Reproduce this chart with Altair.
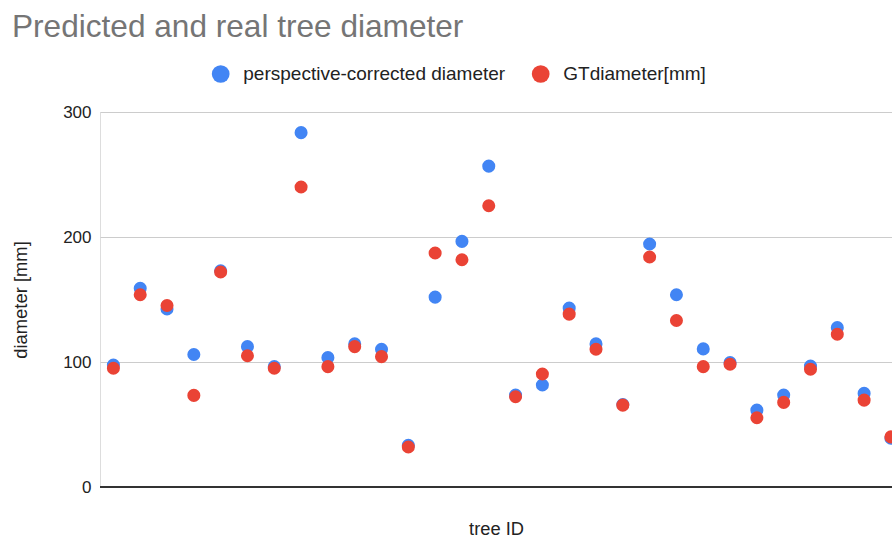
import altair as alt
import pandas as pd

tree_ids = list(range(1, 31))
predicted = [97.6, 159, 142.5, 106, 173, 112.3, 96.3, 283.5, 103.5, 114.5,
             110.2, 33.4, 151.9, 196.5, 256.7, 73.6, 81.6, 143.1, 114.5, 66,
             194.4, 153.8, 110.5, 99.5, 61.5, 73.6, 96.8, 127.5, 74.9, 39]
ground_truth = [95, 153.8, 145.2, 73.3, 172, 105, 95, 240, 96.3, 112.3,
                104.3, 32, 187.2, 181.8, 225, 72.2, 90.4, 138.3, 110.2, 65.5,
                184, 133.2, 96.3, 98.2, 55.4, 67.7, 94.2, 122.2, 69.5, 40.1]
series_names = ["perspective-corrected diameter", "GTdiameter[mm]"]
series_colors = ["#4285F4", "#EA4335"]
y_ticks = [0, 100, 200, 300]

rows = []
for name, vals in zip(series_names, [predicted, ground_truth]):
    for t, v in zip(tree_ids, vals):
        rows.append({"tree": t, "series": name, "value": v})
df = pd.DataFrame(rows)

FONT = "Liberation Sans"

x_scale = alt.Scale(domain=[0.5, 30.04], nice=False, zero=False)
y_scale = alt.Scale(domain=[0, 300], nice=False)

points = alt.Chart(df).mark_circle(size=170, opacity=1, clip=True).encode(
    x=alt.X("tree:Q", scale=x_scale,
            axis=alt.Axis(title="tree ID", labels=False, ticks=False, grid=False,
                          domain=False, titleFont=FONT, titleFontSize=18.3,
                          titleFontWeight="normal", titleColor="#222222",
                          titlePadding=33)),
    y=alt.Y("value:Q", scale=y_scale,
            axis=alt.Axis(title="diameter [mm]", values=y_ticks, ticks=False,
                          domain=False, labelFont=FONT, labelFontSize=17,
                          labelColor="#222222", labelPadding=9,
                          gridColor="#cccccc", gridWidth=1,
                          titleFont=FONT, titleFontSize=18.4, titleFontWeight="normal",
                          titleColor="#222222", titlePadding=32)),
    color=alt.Color("series:N",
                    scale=alt.Scale(domain=series_names, range=series_colors),
                    sort=series_names,
                    legend=alt.Legend(title=None, orient="none", direction="horizontal",
                                      legendX=110.7, legendY=-48,
                                      labelFont=FONT, labelFontSize=19,
                                      labelColor="#222222", symbolSize=314,
                                      symbolType="circle", labelOffset=12.6,
                                      columnPadding=25, labelLimit=400)),
    order=alt.Order("series_order:Q"),
).transform_calculate(
    series_order=f"datum.series === '{series_names[0]}' ? 0 : 1"
)

baseline = alt.Chart(pd.DataFrame({"y": [0]})).mark_rule(color="#333333", strokeWidth=2).encode(
    y=alt.Y("y:Q", scale=y_scale)
)

chart = alt.layer(baseline, points).properties(
    width=792,
    height=375,
    autosize=alt.AutoSizeParams(type="none"),
    padding={"left": 100, "top": 112, "right": 0, "bottom": 52},
    title=alt.TitleParams(
        "Predicted and real tree diameter", anchor="start", frame="group",
        font=FONT, fontSize=31.6, fontWeight="normal", color="#757575",
        dx=-88, dy=-16,
    ),
).configure_view(stroke=None).configure(background="white")

chart.save("out.html", embed_options={"renderer": "svg", "actions": False})
